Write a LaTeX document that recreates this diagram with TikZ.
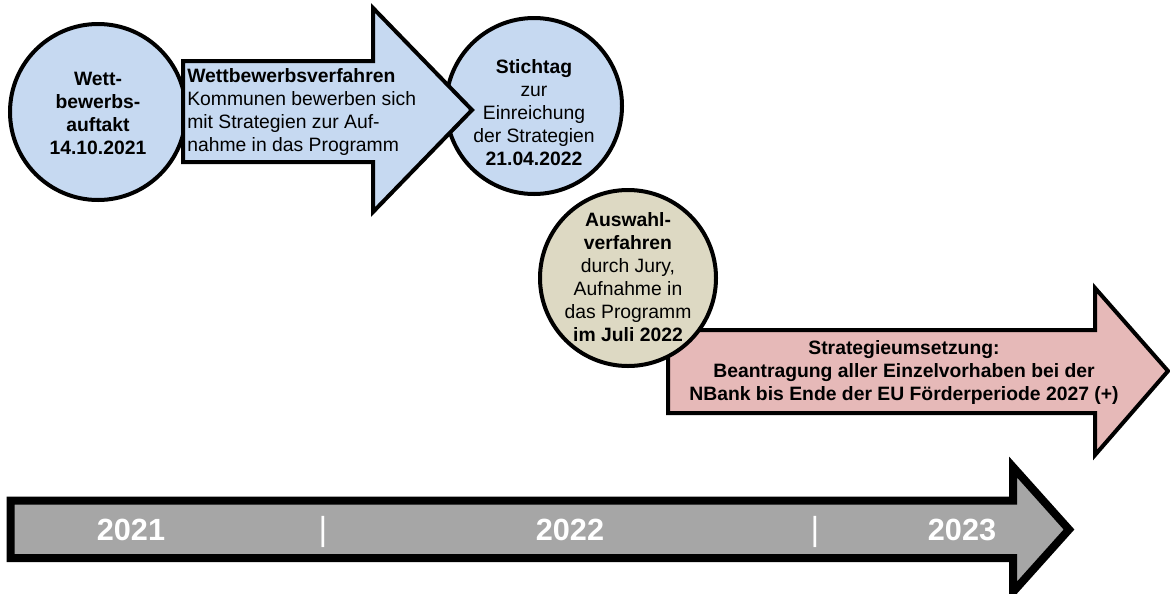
\documentclass[tikz,border=0pt]{standalone}
\usepackage{fontspec}
\setmainfont{Liberation Sans}
\definecolor{blueF}{RGB}{198,217,241}
\definecolor{tanF}{RGB}{221,217,195}
\definecolor{pinkF}{RGB}{230,185,184}
\definecolor{grayF}{RGB}{166,166,166}
\begin{document}
\begin{tikzpicture}[x=0.75pt,y=-0.75pt,
  circ/.style={circle, draw=black, line width=3pt, minimum size=132pt, inner sep=0pt},
  shapeline/.style={draw=black, line width=3pt, line join=miter},
  txt/.style={font=\fontsize{14.5}{17.25}\selectfont, align=center, inner sep=0pt, text=black},
  year/.style={font=\fontsize{23}{27}\selectfont\bfseries, text=white, inner sep=0pt},
  tick/.style={font=\fontsize{25}{30}\selectfont, text=white, inner sep=0pt}]
\useasboundingbox (0,0) rectangle (1170,593);

% circles 1 and 2
\node[circ, fill=blueF] (c1) at (98,112) {};
\node[circ, fill=blueF] (c2) at (534,106) {};

% blue arrow
\draw[shapeline, fill=blueF] (183,61) -- (373,61) -- (373,8) -- (472,110) -- (373,212) -- (373,162) -- (183,162) -- cycle;

\node[txt] (t1) at (98,113) {\bfseries Wett-\\\bfseries bewerbs-\\\bfseries auftakt\\\bfseries 14.10.2021};
\node[txt, align=left, anchor=west] (ta) at (187,112) {\bfseries Wettbewerbsverfahren\\Kommunen bewerben sich\\mit Strategien zur Auf-\\nahme in das Programm};
\node[txt] (t2) at (534,113) {\bfseries Stichtag\\zur\\Einreichung\\der Strategien\\\bfseries 21.04.2022};

% pink arrow
\draw[shapeline, fill=pinkF] (668,330) -- (1095,330) -- (1095,288) -- (1168,371) -- (1095,455) -- (1095,413) -- (668,413) -- cycle;
\node[txt, font=\fontsize{14.5}{17.25}\selectfont\bfseries] (tp) at (904,372) {Strategieumsetzung:\\Beantragung aller Einzelvorhaben bei der\\NBank bis Ende der EU Förderperiode 2027 (+)};

% circle 3
\node[circ, fill=tanF] (c3) at (628,278) {};
\node[txt] (t3) at (628,277) {\bfseries Auswahl-\\\bfseries verfahren\\durch Jury,\\Aufnahme in\\das Programm\\\bfseries im Juli 2022};

% timeline
\draw[draw=black, line width=6pt, line join=miter, fill=grayF] (10.5,500.5) -- (1013,500.5) -- (1013,467) -- (1069,529.5) -- (1013,592) -- (1013,558) -- (10.5,558) -- cycle;
\node[year] (y1) at (131,530) {2021};
\node[tick] (s1) at (323,532) {|};
\node[year] (y2) at (570,530) {2022};
\node[tick] (s2) at (815,532) {|};
\node[year] (y3) at (962,530) {2023};
\end{tikzpicture}
\end{document}
